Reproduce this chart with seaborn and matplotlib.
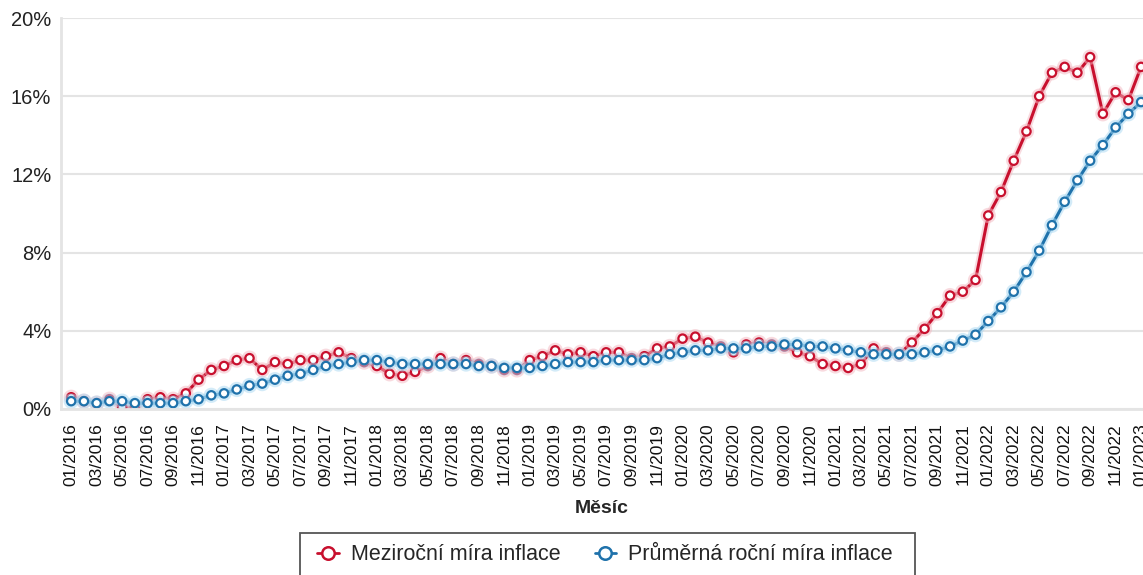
import numpy as np
import pandas as pd
import matplotlib
matplotlib.use("Agg")
import matplotlib.pyplot as plt
import matplotlib.patheffects as pe
from matplotlib.lines import Line2D
from matplotlib.patches import Rectangle
import seaborn as sns

# months 01/2016 .. 01/2023
months = [f"{m:02d}/{y}" for y in range(2016, 2024) for m in range(1, 13)][:85]

mezirocni = [
    0.6, 0.4, 0.3, 0.5, 0.1, 0.1, 0.5, 0.6, 0.5, 0.8, 1.5, 2.0,
    2.2, 2.5, 2.6, 2.0, 2.4, 2.3, 2.5, 2.5, 2.7, 2.9, 2.6, 2.4,
    2.2, 1.8, 1.7, 1.9, 2.2, 2.6, 2.3, 2.5, 2.3, 2.2, 2.0, 2.0,
    2.5, 2.7, 3.0, 2.8, 2.9, 2.7, 2.9, 2.9, 2.6, 2.7, 3.1, 3.2,
    3.6, 3.7, 3.4, 3.2, 2.9, 3.3, 3.4, 3.3, 3.2, 2.9, 2.7, 2.3,
    2.2, 2.1, 2.3, 3.1, 2.9, 2.8, 3.4, 4.1, 4.9, 5.8, 6.0, 6.6,
    9.9, 11.1, 12.7, 14.2, 16.0, 17.2, 17.5, 17.2, 18.0, 15.1, 16.2, 15.8,
    17.5,
]
prumerna = [
    0.4, 0.4, 0.3, 0.4, 0.4, 0.3, 0.3, 0.3, 0.3, 0.4, 0.5, 0.7,
    0.8, 1.0, 1.2, 1.3, 1.5, 1.7, 1.8, 2.0, 2.2, 2.3, 2.4, 2.5,
    2.5, 2.4, 2.3, 2.3, 2.3, 2.3, 2.3, 2.3, 2.2, 2.2, 2.1, 2.1,
    2.1, 2.2, 2.3, 2.4, 2.4, 2.4, 2.5, 2.5, 2.5, 2.5, 2.6, 2.8,
    2.9, 3.0, 3.0, 3.1, 3.1, 3.1, 3.2, 3.2, 3.3, 3.3, 3.2, 3.2,
    3.1, 3.0, 2.9, 2.8, 2.8, 2.8, 2.8, 2.9, 3.0, 3.2, 3.5, 3.8,
    4.5, 5.2, 6.0, 7.0, 8.1, 9.4, 10.6, 11.7, 12.7, 13.5, 14.4, 15.1,
    15.7,
]

df = pd.DataFrame({"i": np.arange(len(months)), "mesic": months,
                   "mezi": mezirocni, "prum": prumerna})

sns.set_style("white")
plt.rcParams["font.family"] = ["Liberation Sans", "DejaVu Sans"]

red = "#c8102e"
blue = "#1f72ab"

fig = plt.figure(figsize=(11.43, 5.75), dpi=100)
ax = fig.add_axes([61 / 1143, 1 - 409 / 575, 1 - 61 / 1143, (409 - 18) / 575])

for col, c, halo in [("mezi", red, "#f3b7c0"), ("prum", blue, "#a9d8f2")]:
    sns.lineplot(data=df, x="i", y=col, ax=ax, color=c, linewidth=2.2,
                 marker="o", markersize=6, markerfacecolor="white",
                 markeredgecolor=c, markeredgewidth=1.6,
                 path_effects=[pe.withStroke(linewidth=5, foreground=halo, alpha=0.5)])

ax.set_xlim(-0.8, 84.15)
ax.set_ylim(0, 20)
ax.set_yticks(range(0, 21, 4))
ax.set_yticklabels([f"{v}%" for v in range(0, 21, 4)], fontsize=14.5, color="#222222")
ax.set_xticks(df["i"][::2])
ax.set_xticklabels(df["mesic"][::2], rotation=90, fontsize=12.5, color="#111111")
ax.tick_params(axis="x", length=0, pad=10)
ax.tick_params(axis="y", length=0, pad=7)
ax.grid(axis="y", color="#e4e4e4", linewidth=1.5)
for s in ["top", "right"]:
    ax.spines[s].set_visible(False)
ax.spines["left"].set_color("#e4e4e4")
ax.spines["left"].set_linewidth(2)
ax.spines["bottom"].set_color("#e4e4e4")
ax.spines["bottom"].set_linewidth(2)
ax.set_xlabel("Měsíc", fontsize=14, fontweight="bold", labelpad=10)
ax.set_ylabel("")

handles = [
    Line2D([], [], color=red, linewidth=2, marker="o", markersize=9,
           markerfacecolor="white", markeredgecolor=red, markeredgewidth=1.8),
    Line2D([], [], color=blue, linewidth=2, marker="o", markersize=9,
           markerfacecolor="white", markeredgecolor=blue, markeredgewidth=1.8),
]
fig.legend(handles, ["Meziroční míra inflace", "Průměrná roční míra inflace"],
           loc="center", bbox_to_anchor=(605 / 1143, 1 - 555 / 575),
           ncol=2, frameon=False, fontsize=15.5,
           handlelength=1.0, handletextpad=0.55, columnspacing=1.6,
           borderpad=0, borderaxespad=0)
# legend box, cut at the bottom edge like in the original
fig.patches.append(Rectangle((300 / 1143, -0.05), 615 / 1143, 0.05 + 1 - 533 / 575,
                             transform=fig.transFigure, fill=False,
                             edgecolor="#555555", linewidth=1.3))

fig.savefig("out.png", dpi=100)
